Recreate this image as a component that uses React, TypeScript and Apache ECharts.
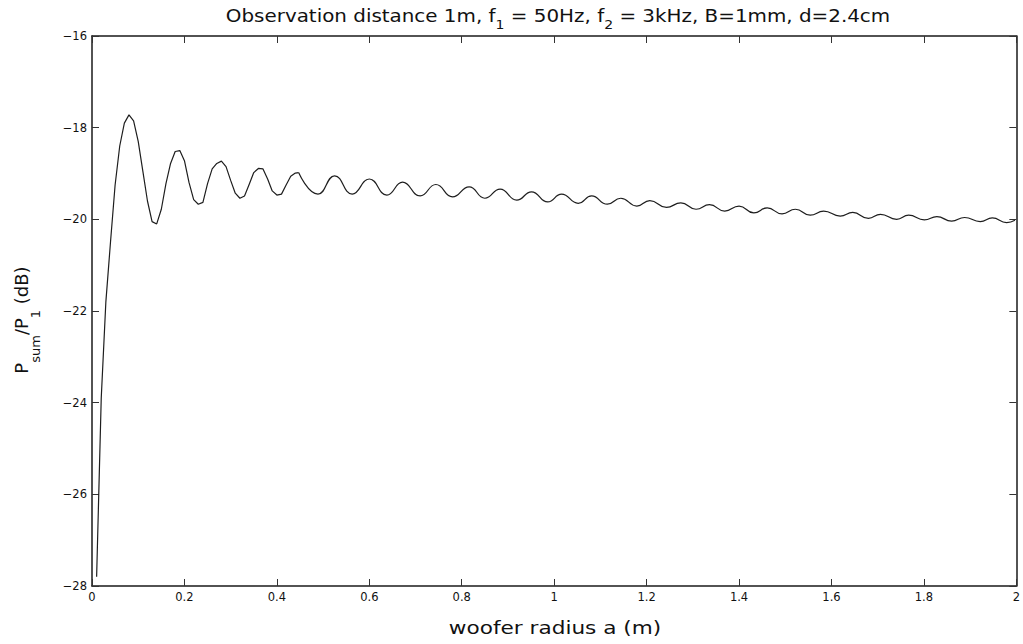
import React, { useEffect, useRef } from "react";
import * as echarts from "echarts";

// woofer radius a (m) — dense samples up to the 4th trough, then read peaks/troughs
const radiusM = [
  0.01, 0.02, 0.03, 0.04, 0.05, 0.06, 0.07, 0.08, 0.09, 0.1,
  0.11, 0.12, 0.13, 0.14, 0.15, 0.16, 0.17, 0.18, 0.19, 0.2,
  0.21, 0.22, 0.23, 0.24, 0.25, 0.26, 0.27, 0.28, 0.29, 0.3,
  0.31, 0.32, 0.33, 0.34, 0.35, 0.36, 0.37, 0.38, 0.39, 0.4,
  0.41, 0.42, 0.43, 0.44,
  0.447, 0.489, 0.525, 0.563, 0.6, 0.638, 0.672, 0.71, 0.744, 0.78,
  0.816, 0.85, 0.883, 0.919, 0.951, 0.986, 1.016, 1.052, 1.081, 1.115,
  1.144, 1.179, 1.207, 1.243, 1.274, 1.307, 1.336, 1.369, 1.4, 1.432,
  1.461, 1.493, 1.522, 1.554, 1.583, 1.619, 1.646, 1.68, 1.706, 1.741,
  1.767, 1.801, 1.828, 1.86, 1.888, 1.922, 1.948, 1.979, 1.997,
];

// P_sum / P_1 (dB)
const levelDb = [
  -27.8, -23.9, -21.8, -20.5, -19.25, -18.4, -17.9, -17.72, -17.85, -18.3,
  -18.95, -19.6, -20.05, -20.1, -19.78, -19.22, -18.78, -18.52, -18.5, -18.72,
  -19.2, -19.57, -19.67, -19.63, -19.22, -18.9, -18.78, -18.73, -18.85, -19.15,
  -19.43, -19.54, -19.49, -19.24, -18.98, -18.89, -18.9, -19.12, -19.38, -19.47,
  -19.45, -19.25, -19.06, -18.99,
  -18.98, -19.45, -19.05, -19.45, -19.12, -19.47, -19.19, -19.49, -19.24, -19.51,
  -19.29, -19.54, -19.34, -19.58, -19.4, -19.62, -19.45, -19.65, -19.49, -19.67,
  -19.54, -19.71, -19.59, -19.74, -19.64, -19.78, -19.68, -19.82, -19.71, -19.86,
  -19.75, -19.88, -19.78, -19.91, -19.82, -19.93, -19.85, -19.98, -19.89, -20.0,
  -19.91, -20.01, -19.94, -20.04, -19.96, -20.05, -19.97, -20.07, -20.02,
];

// index where the sampled part ends and the peak/trough part begins
const denseEnd = 44;

const xRange = { min: 0, max: 2, interval: 0.2 };
const yRange = { min: -28, max: -16, interval: 2 };

const titleText = "Observation distance 1m, f{s|1} = 50Hz, f{s|2} = 3kHz, B=1mm, d=2.4cm";
const xName = "woofer radius a (m)";
const yNameText = "P{s|sum}/P{s|1} (dB)";

const FONT = "DejaVu Sans";

export default function App() {
  const ref = useRef<HTMLDivElement>(null);

  useEffect(() => {
    if (!ref.current) return;
    const chart = echarts.init(ref.current, null, { renderer: "svg" });
    const axisLine = { show: true, onZero: false, lineStyle: { color: "#1a1a1a", width: 1.5 } };
    const tick = { show: true, inside: true, length: 7, lineStyle: { color: "#333", width: 1 } };
    const labelStyle = { fontFamily: FONT, fontSize: 11.5, color: "#111" };
    const pts = radiusM.map((x, i) => [x, levelDb[i]]);
    const lineStyle = { color: "#1e1e1e", width: 1.2 };

    chart.setOption({
      animation: false,
      backgroundColor: "#ffffff",
      grid: { left: 92, right: 5, top: 36, bottom: 58, containLabel: false },
      xAxis: [
        {
          type: "value", ...xRange, position: "bottom",
          axisLine, axisTick: tick, splitLine: { show: false },
          axisLabel: {
            ...labelStyle, margin: 5,
            formatter: (v: number) => String(parseFloat(v.toFixed(1))),
          },
        },
        {
          type: "value", ...xRange, position: "top",
          axisLine, axisTick: tick, splitLine: { show: false },
          axisLabel: { show: false },
        },
      ],
      yAxis: [
        {
          type: "value", ...yRange, position: "left",
          axisLine, axisTick: tick, splitLine: { show: false },
          axisLabel: {
            ...labelStyle, margin: 5,
            formatter: (v: number) => (v < 0 ? "\u2212" + Math.abs(v) : String(v)),
          },
        },
        {
          type: "value", ...yRange, position: "right",
          axisLine, axisTick: tick, splitLine: { show: false },
          axisLabel: { show: false },
        },
      ],
      series: [
        {
          type: "line",
          xAxisIndex: 0,
          yAxisIndex: 0,
          data: pts.slice(0, denseEnd + 1),
          showSymbol: false,
          symbol: "none",
          smooth: false,
          lineStyle,
        },
        {
          type: "line",
          xAxisIndex: 0,
          yAxisIndex: 0,
          data: pts.slice(denseEnd),
          showSymbol: false,
          symbol: "none",
          smooth: 0.5,
          lineStyle,
        },
      ],
      graphic: [
        {
          type: "text",
          x: 558,
          y: 16.5,
          scaleX: 1.17,
          style: {
            text: titleText,
            fontFamily: FONT,
            fontSize: 17,
            fill: "#111",
            align: "center",
            verticalAlign: "middle",
            rich: { s: { fontFamily: FONT, fontSize: 12, fill: "#111", padding: [16, 0, 0, 0] } },
          },
        },
        {
          type: "text",
          x: 555,
          y: 628,
          scaleX: 1.2,
          style: {
            text: xName,
            fontFamily: FONT,
            fontSize: 18,
            fill: "#111",
            align: "center",
            verticalAlign: "middle",
          },
        },
        {
          type: "text",
          x: 21,
          y: 320,
          rotation: Math.PI / 2,
          style: {
            text: yNameText,
            fontFamily: FONT,
            fontSize: 18,
            fill: "#111",
            align: "center",
            verticalAlign: "middle",
            rich: { s: { fontFamily: FONT, fontSize: 13, fill: "#111", padding: [28, 0, 0, 0] } },
          },
        },
      ],
    });
    return () => chart.dispose();
  }, []);

  return (
    <div
      ref={ref}
      style={{ position: "fixed", left: 0, top: 0, width: 1023, height: 644, background: "#fff" }}
    />
  );
}
